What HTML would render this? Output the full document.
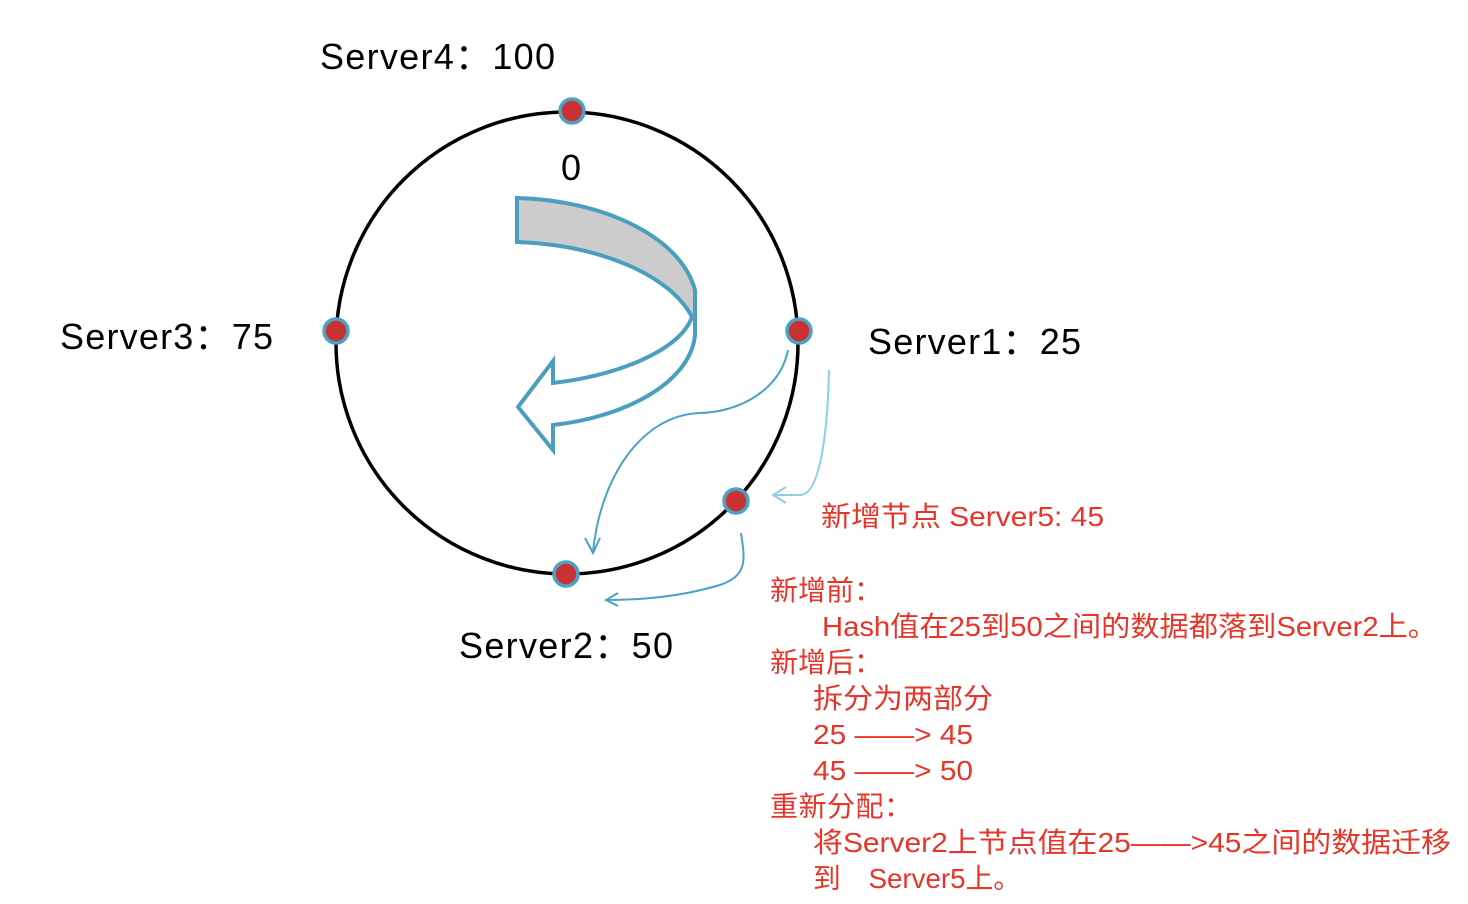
<!DOCTYPE html>
<html><head><meta charset="utf-8"><style>
html,body{margin:0;padding:0;background:#fff;}
svg{display:block;}
.b{font-family:"Liberation Sans","Noto Sans CJK SC",sans-serif;font-size:36px;fill:#000;}
.r{font-family:"Liberation Sans","Noto Sans CJK SC",sans-serif;font-size:28px;fill:#e8352a;}
</style></head><body>
<svg width="1468" height="904" viewBox="0 0 1468 904" xmlns="http://www.w3.org/2000/svg">
<circle cx="567" cy="343" r="231" fill="none" stroke="#000" stroke-width="3.5"/>
<path d="M517,198 C600,200 680,235 695,290 L695,318 C670,275 600,245 517,242 Z" fill="#cccccc"/>
<path d="M517,198 C600,200 680,235 695,290 L695,335 C690,385 620,418 553,425 L553,450 L518,407 L553,361 L553,383 C620,375 680,350 692,317 C670,275 600,245 517,242 Z" fill="none" stroke="#4a9fc0" stroke-width="4" stroke-linejoin="miter"/>
<g fill="none" stroke="#4aa3c4" stroke-width="2">
<path d="M788,350 C780,390 740,412 700,413 C640,415 600,480 593,552"/>
<path d="M585,538 L593,553 L600,538"/>
<path d="M741,533 C745,560 748,575 720,585 C680,597 640,600 606,600"/>
<path d="M618,593 L606,600 L618,606"/>
</g>
<g fill="none" stroke="#8ccfe6" stroke-width="2">
<path d="M829,370 C828,420 822,495 800,495 L775,495"/>
<path d="M786,487 L773,495 L786,503"/>
</g>
<g fill="#c83232" stroke="#4aa3c4" stroke-width="3.5">
<circle cx="572" cy="111" r="12"/>
<circle cx="336" cy="331" r="12"/>
<circle cx="799" cy="331" r="12"/>
<circle cx="736" cy="501" r="12"/>
<circle cx="566" cy="574" r="12"/>
</g>
<text class="b" x="320" y="69" textLength="235" lengthAdjust="spacing">Server4：100</text>
<text class="b" x="561" y="180">0</text>
<text class="b" x="60" y="349" textLength="213" lengthAdjust="spacing">Server3：75</text>
<text class="b" x="868" y="354" textLength="213" lengthAdjust="spacing">Server1：25</text>
<text class="b" x="459" y="658" textLength="214" lengthAdjust="spacing">Server2：50</text>
<text class="r" x="821" y="526" textLength="283" lengthAdjust="spacingAndGlyphs">新增节点 Server5: 45</text>
<text class="r" x="770" y="600" textLength="112" lengthAdjust="spacing">新增前：</text>
<text class="r" x="822" y="636" textLength="615" lengthAdjust="spacingAndGlyphs">Hash值在25到50之间的数据都落到Server2上。</text>
<text class="r" x="770" y="672" textLength="112" lengthAdjust="spacing">新增后：</text>
<text class="r" x="813" y="708" textLength="180" lengthAdjust="spacingAndGlyphs">拆分为两部分</text>
<text class="r" x="813" y="744" textLength="160" lengthAdjust="spacingAndGlyphs">25 ——&gt; 45</text>
<text class="r" x="813" y="780" textLength="160" lengthAdjust="spacingAndGlyphs">45 ——&gt; 50</text>
<text class="r" x="770" y="816" textLength="142" lengthAdjust="spacing">重新分配：</text>
<text class="r" x="813" y="852" textLength="638" lengthAdjust="spacingAndGlyphs">将Server2上节点值在25——&gt;45之间的数据迁移</text>
<text class="r" x="813" y="888" textLength="208" lengthAdjust="spacingAndGlyphs">到　Server5上。</text>
</svg>
</body></html>
